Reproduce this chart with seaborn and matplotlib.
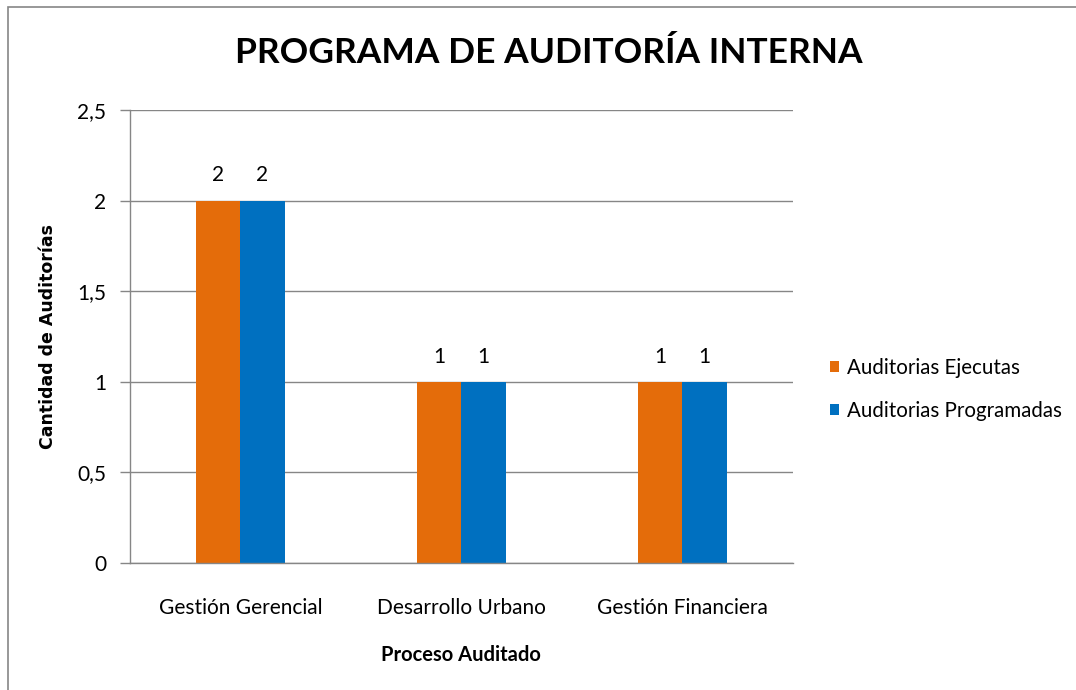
import seaborn as sns
import pandas as pd
import matplotlib.pyplot as plt
from matplotlib.patches import Rectangle

# Data
procesos = ['Gestión Gerencial', 'Desarrollo Urbano', 'Gestión Financiera']
ejecutadas = [2, 1, 1]
programadas = [2, 1, 1]
series = ['Auditorias Ejecutas', 'Auditorias Programadas']
colores = ['#E46C0A', '#0070C0']

data = pd.DataFrame({
    'proceso': procesos * 2,
    'serie': [series[0]] * len(procesos) + [series[1]] * len(procesos),
    'valor': ejecutadas + programadas,
})

sns.set_theme(style='white')
plt.rcParams['font.family'] = ['Lato', 'DejaVu Sans']
plt.rcParams['text.color'] = 'black'
plt.rcParams['axes.labelcolor'] = 'black'
plt.rcParams['xtick.labelcolor'] = 'black'
plt.rcParams['ytick.labelcolor'] = 'black'

fig = plt.figure(figsize=(10.76, 6.9), dpi=100)
ax = fig.add_axes([0.1208, 0.184, 0.616, 0.6566])

sns.barplot(data=data, x='proceso', y='valor', hue='serie', palette=colores,
            width=0.4, ax=ax, saturation=1, errorbar=None, linewidth=0)

grid_color = '#868686'
ax.set_ylim(0, 2.5)
ax.set_yticks([0, 0.5, 1, 1.5, 2, 2.5])
ax.set_yticklabels(['0', '0,5', '1', '1,5', '2', '2,5'])
ax.yaxis.grid(True, color=grid_color, linewidth=1)
ax.set_axisbelow(True)
for side in ['top', 'right']:
    ax.spines[side].set_visible(False)
ax.spines['left'].set_color(grid_color)
ax.spines['bottom'].set_color(grid_color)
ax.spines['left'].set_linewidth(1)
ax.spines['bottom'].set_linewidth(1)
ax.tick_params(axis='y', length=7, width=1, color=grid_color, direction='out',
               left=True, labelsize=15, pad=10)
ax.tick_params(axis='x', length=0, labelsize=15, pad=25)

for c in ax.containers:
    ax.bar_label(c, labels=[f'{v:g}' for v in c.datavalues], padding=11, fontsize=15)

ax.set_xlabel('Proceso Auditado', fontsize=14.5, fontweight='bold', va='center')
ax.xaxis.set_label_coords(0.5, -0.203)
ax.set_ylabel('Cantidad de Auditorías', fontsize=12.5, fontweight='bold', va='center',
              family=['DejaVu Sans'])
ax.yaxis.set_label_coords(-0.124, 0.5)

fig.text(0.51, 0.923, 'PROGRAMA DE AUDITORÍA INTERNA', ha='center', va='center',
         fontsize=25.5, fontweight='bold')

leg = ax.legend(loc='center left', bbox_to_anchor=(1.056, 0.383), frameon=False,
                fontsize=14.8, handlelength=0.45, handleheight=0.45, handletextpad=0.4,
                labelspacing=1.1, borderpad=0, borderaxespad=0)

# chart border (left and top edges visible)
fig.patches.append(Rectangle((8 / 1076, -0.1), 1.2, 1 - 7 / 690 + 0.1,
                             transform=fig.transFigure, fill=False,
                             edgecolor='#868686', linewidth=1.2))

fig.savefig('out.png', dpi=100)
